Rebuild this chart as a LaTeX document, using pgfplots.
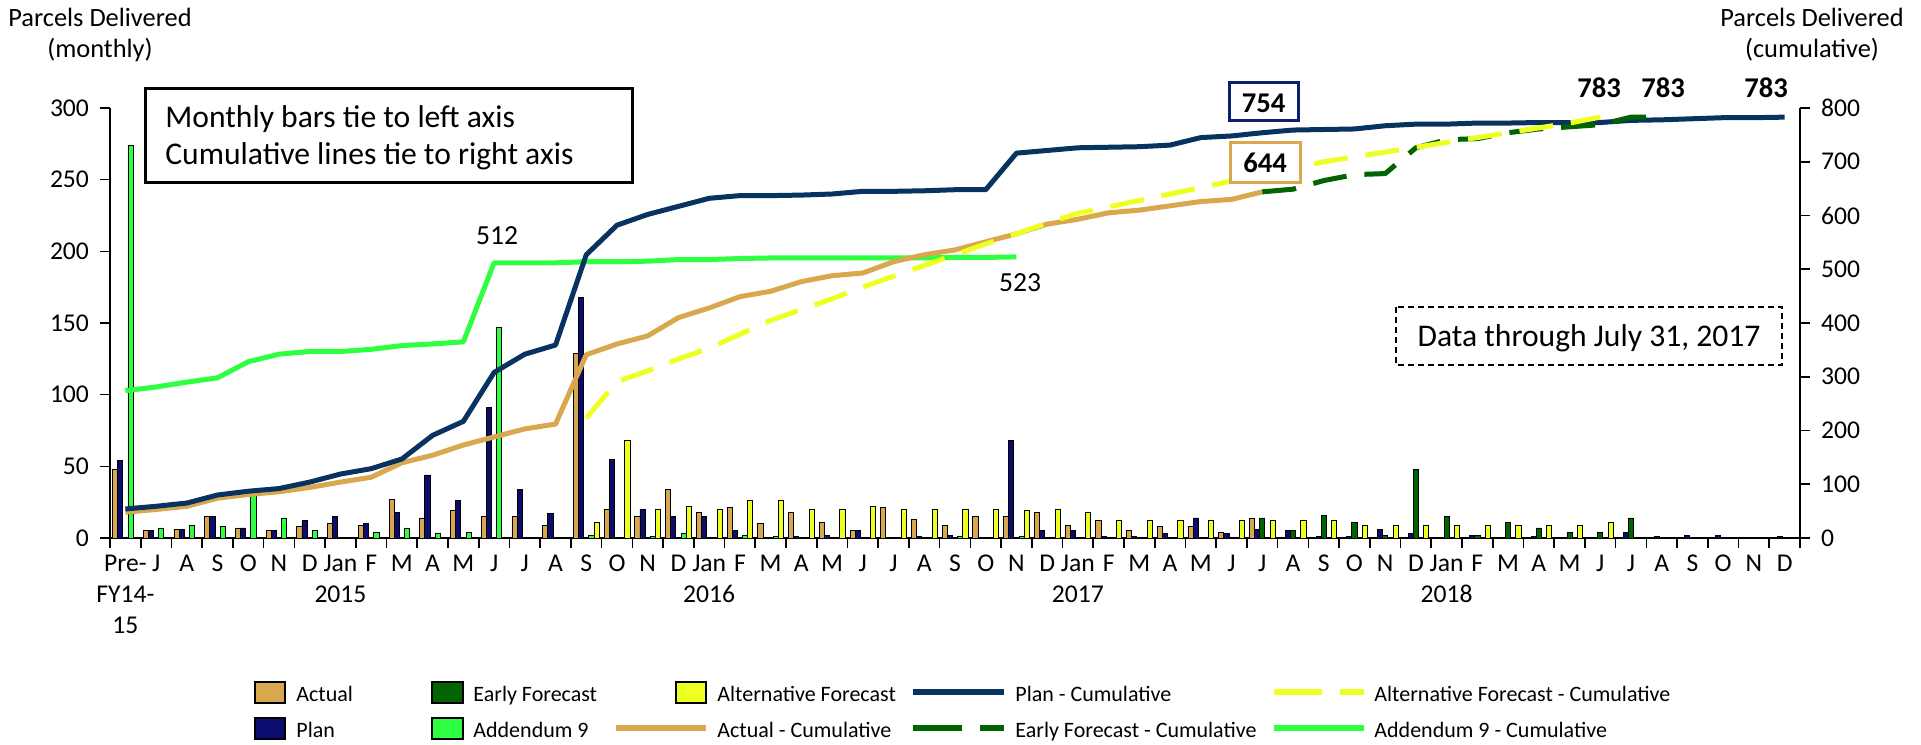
\documentclass[border=0pt]{standalone}
\usepackage{fontspec}
\setmainfont{Carlito}
\usepackage{pgfplots}
\pgfplotsset{compat=1.18}
\definecolor{actual}{RGB}{217,168,78}
\definecolor{plan}{RGB}{10,12,110}
\definecolor{early}{RGB}{0,100,0}
\definecolor{addnine}{RGB}{46,255,64}
\definecolor{alt}{RGB}{238,255,34}
\definecolor{plancum}{RGB}{8,50,95}
\definecolor{boxnavy}{RGB}{12,30,110}
\newcommand\tickfont{\fontsize{12.8}{15.5}\selectfont}
\newcommand\hdfont{\fontsize{13.2}{15.5}\selectfont}
\newcommand\boxfont{\fontsize{15.8}{18}\selectfont}
\newcommand\legfont{\fontsize{11}{13}\selectfont}
\newcommand\lblfont{\fontsize{13.8}{16}\selectfont}
\newcommand\bfont{\fontsize{14.3}{17}\selectfont\bfseries}
\begin{document}
\begin{tikzpicture}
\path[use as bounding box] (0,0) rectangle (960.5pt,372pt);
% ---------------- monthly bars (left axis) ----------------
\begin{axis}[
  at={(55pt,103pt)}, anchor=south west,
  scale only axis, width=845pt, height=215pt,
  xmin=-0.5, xmax=54.5, ymin=0, ymax=300,
  axis x line*=bottom, axis y line*=left,
  axis line style={-, line width=0.9pt, black},
  tick align=outside, major tick length=5pt, minor tick length=5pt,
  tick style={black, line width=0.8pt},
  xtick={0,...,54},
  xticklabels={{Pre-\\FY14-\\15},J,A,S,O,N,D,{Jan\\2015},F,M,A,M,J,J,A,S,O,N,D,{Jan\\2016},F,M,A,M,J,J,A,S,O,N,D,{Jan\\2017},F,M,A,M,J,J,A,S,O,N,D,{Jan\\2018},F,M,A,M,J,J,A,S,O,N,D},
  major x tick style={draw=none},
  minor xtick={-0.5,0.5,...,54.5},
  ytick={0,50,...,300},
  /pgf/number format/assume math mode=true,
  yticklabel style={font=\tickfont, xshift=-2pt},
  xticklabel style={font=\tickfont, align=center},
  ybar=0pt, bar width=0.168,
]
\addplot[fill=actual, draw=black, line width=0.4pt] coordinates {
(0,48) (1,5) (2,6) (3,15) (4,7) (5,5) (6,8) (7,10) (8,9) (9,27) (10,14) (11,19) (12,15) (13,15) (14,9) (15,129) (16,20) (17,15) (18,34) (19,18) (20,21) (21,10) (22,18) (23,11) (24,5) (25,21) (26,13) (27,9) (28,15) (29,15) (30,18) (31,9) (32,12) (33,5) (34,8) (35,8) (36,4) (37,14)};
\addplot[fill=plan, draw=black, line width=0.4pt] coordinates {
(0,54) (1,5) (2,6) (3,15) (4,7) (5,5) (6,12) (7,15) (8,10) (9,18) (10,44) (11,26) (12,91) (13,34) (14,17) (15,168) (16,55) (17,20) (18,15) (19,15) (20,5) (22,1) (23,2) (24,5) (26,1) (27,2) (29,68) (30,5) (31,5) (32,1) (33,1) (34,3) (35,14) (36,3) (37,6) (38,5) (39,1) (40,1) (41,6) (42,3) (44,2) (46,1) (49,4) (50,1) (51,2) (52,2) (54,1)};
\addplot[fill=early, draw=black, line width=0.4pt] coordinates {
(37,14) (38,5) (39,16) (40,11) (41,2) (42,48) (43,15) (44,2) (45,11) (46,7) (47,4) (48,4) (49,14)};
\addplot[fill=addnine, draw=black, line width=0.4pt] coordinates {
(0,274) (1,7) (2,9) (3,8) (4,30) (5,14) (6,5) (8,4) (9,7) (10,3) (11,4) (12,147) (15,2) (17,1) (18,3) (20,2) (21,1) (27,1) (29,1)};
\addplot[fill=alt, draw=black, line width=0.4pt] coordinates {
(15,11) (16,68) (17,20) (18,22) (19,20) (20,26) (21,26) (22,20) (23,20) (24,22) (25,20) (26,20) (27,20) (28,20) (29,19) (30,20) (31,18) (32,12) (33,12) (34,12) (35,12) (36,12) (37,12) (38,12) (39,12) (40,9) (41,9) (42,9) (43,9) (44,9) (45,9) (46,9) (47,9) (48,11)};
\end{axis}
% ---------------- cumulative lines (right axis) ----------------
\begin{axis}[
  at={(55pt,103pt)}, anchor=south west,
  scale only axis, width=845pt, height=215pt,
  xmin=-0.5, xmax=54.5, ymin=0, ymax=800,
  axis x line=none, axis y line*=right,
  axis line style={-, line width=0.9pt, black},
  tick align=outside, major tick length=5pt,
  tick style={black, line width=0.8pt},
  ytick={0,100,...,800},
  /pgf/number format/assume math mode=true,
  yticklabel style={font=\tickfont, xshift=2pt},
  every axis plot/.append style={line width=2.5pt, line join=round, mark=none},
]
\addplot[addnine] coordinates {
(0,274) (1,281) (2,290) (3,298) (4,328) (5,342) (6,347) (7,347) (8,351) (9,358) (10,361) (11,365) (12,512) (13,512) (14,512) (15,514) (16,514) (17,515) (18,518) (19,518) (20,520) (21,521) (22,521) (23,521) (24,521) (25,521) (26,521) (27,522) (28,522) (29,523)};
\addplot[actual] coordinates {
(0,48) (1,53) (2,59) (3,74) (4,81) (5,86) (6,94) (7,104) (8,113) (9,140) (10,154) (11,173) (12,188) (13,203) (14,212) (15,341) (16,361) (17,376) (18,410) (19,428) (20,449) (21,459) (22,477) (23,488) (24,493) (25,514) (26,527) (27,536) (28,551) (29,566) (30,584) (31,593) (32,605) (33,610) (34,618) (35,626) (36,630) (37,644)};
\addplot[plancum] coordinates {
(0,54) (1,59) (2,65) (3,80) (4,87) (5,92) (6,104) (7,119) (8,129) (9,147) (10,191) (11,217) (12,308) (13,342) (14,359) (15,527) (16,582) (17,602) (18,617) (19,632) (20,637) (21,637) (22,638) (23,640) (24,645) (25,645) (26,646) (27,648) (28,648) (29,716) (30,721) (31,726) (32,727) (33,728) (34,731) (35,745) (36,748) (37,754) (38,759) (39,760) (40,761) (41,767) (42,770) (43,770) (44,772) (45,772) (46,773) (47,773) (48,773) (49,777) (50,778) (51,780) (52,782) (53,782) (54,783)};
\addplot[early, dash pattern=on 17pt off 9pt] coordinates {
(37,644) (38,649) (39,665) (40,676) (41,678) (42,726) (43,741) (44,743) (45,754) (46,761) (47,765) (48,769) (49,783) (50,783)};
\addplot[alt, dash pattern=on 17pt off 9pt] coordinates {
(15,223) (16,291) (17,311) (18,333) (19,353) (20,379) (21,405) (22,425) (23,445) (24,467) (25,487) (26,507) (27,527) (28,547) (29,566) (30,586) (31,604) (32,616) (33,628) (34,640) (35,652) (36,664) (37,676) (38,688) (39,700) (40,709) (41,718) (42,727) (43,736) (44,745) (45,754) (46,763) (47,772) (48,783)};
\end{axis}
% ---------------- annotations and legend (pixel grid of the reference) ----------------
\begin{scope}[x=0.5pt, y=-0.5pt, shift={(0pt,372pt)}]
\node[font=\hdfont, anchor=base, inner sep=0] at (100,27) {Parcels Delivered};
\node[font=\hdfont, anchor=base, inner sep=0] at (100,58) {(monthly)};
\node[font=\hdfont, anchor=base, inner sep=0] at (1812,27) {Parcels Delivered};
\node[font=\hdfont, anchor=base, inner sep=0] at (1812,58) {(cumulative)};
\draw[line width=1.5pt, fill=white] (145,89) rectangle (632,183);
\node[font=\boxfont, anchor=base west, inner sep=0] at (165,128) {Monthly bars tie to left axis};
\node[font=\boxfont, anchor=base west, inner sep=0] at (165,165) {Cumulative lines tie to right axis};
\draw[line width=1pt, dash pattern=on 3pt off 2pt, fill=white] (1396,307) rectangle (1782,365);
\node[font=\boxfont, anchor=base, inner sep=0] at (1589,347) {Data through July 31, 2017};
\draw[boxnavy, line width=1.5pt, fill=white] (1229,83) rectangle (1298,121);
\node[font=\bfont, anchor=base, inner sep=0] at (1263.5,113) {754};
\draw[actual, line width=1.5pt, fill=white] (1230,143) rectangle (1300,183);
\node[font=\bfont, anchor=base, inner sep=0] at (1265,173) {644};
\node[font=\bfont, anchor=base, inner sep=0] at (1599,98) {783};
\node[font=\bfont, anchor=base, inner sep=0] at (1663,98) {783};
\node[font=\bfont, anchor=base, inner sep=0] at (1766,98) {783};
\node[font=\lblfont, anchor=base, inner sep=0] at (497,245) {512};
\node[font=\lblfont, anchor=base, inner sep=0] at (1020,292) {523};
% legend
\filldraw[fill=actual, draw=black, line width=1pt] (255,682) rectangle (285,703);
\filldraw[fill=plan, draw=black, line width=1pt] (255,718) rectangle (285,739);
\filldraw[fill=early, draw=black, line width=1pt] (432,682) rectangle (463,703);
\filldraw[fill=addnine, draw=black, line width=1pt] (432,718) rectangle (463,739);
\filldraw[fill=alt, draw=black, line width=1pt] (676,682) rectangle (706,703);
\draw[actual, line width=3pt] (616,728) -- (706,728);
\draw[plancum, line width=3pt] (913,692) -- (1004,692);
\draw[early, line width=3pt] (913,728) -- (962,728) (980,728) -- (1004,728);
\draw[alt, line width=3pt] (1274,692) -- (1322,692) (1340,692) -- (1364,692);
\draw[addnine, line width=3pt] (1274,728) -- (1364,728);
\node[font=\legfont, anchor=base west, inner sep=0] at (296,701) {Actual};
\node[font=\legfont, anchor=base west, inner sep=0] at (296,737) {Plan};
\node[font=\legfont, anchor=base west, inner sep=0] at (473,701) {Early Forecast};
\node[font=\legfont, anchor=base west, inner sep=0] at (473,737) {Addendum 9};
\node[font=\legfont, anchor=base west, inner sep=0] at (717,701) {Alternative Forecast};
\node[font=\legfont, anchor=base west, inner sep=0] at (717,737) {Actual - Cumulative};
\node[font=\legfont, anchor=base west, inner sep=0] at (1015,701) {Plan - Cumulative};
\node[font=\legfont, anchor=base west, inner sep=0] at (1015,737) {Early Forecast - Cumulative};
\node[font=\legfont, anchor=base west, inner sep=0] at (1374,701) {Alternative Forecast - Cumulative};
\node[font=\legfont, anchor=base west, inner sep=0] at (1374,737) {Addendum 9 - Cumulative};
\end{scope}
\end{tikzpicture}
\end{document}
